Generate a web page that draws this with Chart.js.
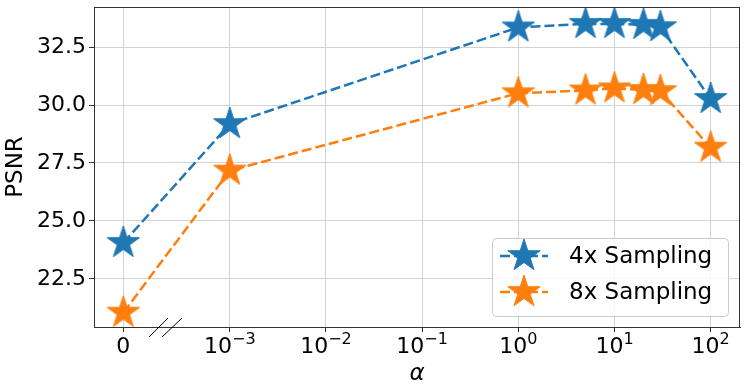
<!DOCTYPE html>
<html>
<head>
<meta charset="utf-8">
<script src="https://cdn.jsdelivr.net/npm/chart.js@4"></script>
<style>
  html, body { margin: 0; padding: 0; background: #fff; }
  #wrap { width: 747px; height: 392px; }
</style>
</head>
<body>
<div id="wrap"><canvas id="myChart" width="747" height="392"></canvas></div>
<script>
// alpha values (0 sits left of the axis break)
const alphas = [0, 1e-3, 1, 5, 10, 20, 30, 100];
const psnr4x = [24.05, 29.18, 33.35, 33.5, 33.5, 33.46, 33.36, 30.26];
const psnr8x = [21.04, 27.17, 30.51, 30.63, 30.72, 30.65, 30.6, 28.16];
const seriesLabels = ["4x Sampling", "8x Sampling"];
const yTicks = [22.5, 25.0, 27.5, 30.0, 32.5];
const xTickExps = [-3, -2, -1, 0, 1, 2];
const ZERO_POS = -4.107; // where alpha = 0 is placed on the log10 axis

const BLUE = "#1f77b4";
const ORANGE = "#ff7f0e";
const FONT = "DejaVu Sans";

function xPos(a) {
  return a === 0 ? ZERO_POS : Math.log10(a);
}

function starImage(color, R) {
  const c = document.createElement("canvas");
  const s = Math.ceil(2 * R + 4);
  c.width = s; c.height = s;
  const g = c.getContext("2d");
  const r = R * 0.381966;
  g.beginPath();
  for (let k = 0; k < 10; k++) {
    const ang = -Math.PI / 2 + k * Math.PI / 5;
    const rad = k % 2 === 0 ? R : r;
    const px = s / 2 + rad * Math.cos(ang);
    const py = s / 2 + rad * Math.sin(ang);
    if (k === 0) g.moveTo(px, py); else g.lineTo(px, py);
  }
  g.closePath();
  g.fillStyle = color;
  g.strokeStyle = color;
  g.lineWidth = 1;
  g.fill();
  g.stroke();
  return c;
}

const star4 = starImage(BLUE, 17);
const star8 = starImage(ORANGE, 17);

const decorPlugin = {
  id: "decor",
  afterDraw(chart) {
    const ctx = chart.ctx;
    const a = chart.chartArea;
    const xs = chart.scales.x;
    ctx.save();

    // frame
    ctx.strokeStyle = "#333";
    ctx.lineWidth = 1;
    ctx.strokeRect(a.left + 0.5, a.top + 0.5, a.right - a.left - 1, a.bottom - a.top);

    // x tick labels
    ctx.fillStyle = "#000";
    ctx.textBaseline = "alphabetic";
    const baseY = a.bottom + 26;
    ctx.font = "22px " + FONT;
    ctx.textAlign = "center";
    ctx.fillText("0", xs.getPixelForValue(ZERO_POS), baseY);
    xTickExps.forEach(e => {
      const cx = xs.getPixelForValue(e);
      ctx.font = "22px " + FONT;
      const w1 = ctx.measureText("10").width;
      const sup = e < 0 ? "\u2212" + (-e) : String(e);
      ctx.font = "16px " + FONT;
      const w2 = ctx.measureText(sup).width;
      const x0 = cx - (w1 + w2) / 2;
      ctx.textAlign = "left";
      ctx.font = "22px " + FONT;
      ctx.fillText("10", x0, baseY);
      ctx.font = "16px " + FONT;
      ctx.fillText(sup, x0 + w1, baseY - 9);
    });

    // axis break marks
    ctx.strokeStyle = "#000";
    ctx.lineWidth = 1;
    ctx.beginPath();
    ctx.moveTo(149, a.bottom + 10); ctx.lineTo(168, a.bottom - 9);
    ctx.moveTo(162, a.bottom + 10); ctx.lineTo(182, a.bottom - 9);
    ctx.stroke();

    // legend
    const lx = 492, ly = 238, lw = 236, lh = 78;
    ctx.beginPath();
    ctx.roundRect(lx + 0.5, ly + 0.5, lw, lh, 4);
    ctx.fillStyle = "rgba(255,255,255,0.8)";
    ctx.fill();
    ctx.strokeStyle = "#cccccc";
    ctx.stroke();
    const rows = [[BLUE, star4, 256], [ORANGE, star8, 292]];
    rows.forEach((row, i) => {
      const [col, img, yy] = row;
      ctx.strokeStyle = col;
      ctx.lineWidth = 2.5;
      ctx.setLineDash([10, 4]);
      ctx.beginPath();
      ctx.moveTo(500, yy); ctx.lineTo(548, yy);
      ctx.stroke();
      ctx.setLineDash([]);
      ctx.drawImage(img, 524 - img.width / 2, yy - img.height / 2);
      ctx.fillStyle = "#000";
      ctx.font = "23px " + FONT;
      ctx.textAlign = "left";
      ctx.textBaseline = "middle";
      ctx.fillText(seriesLabels[i], 569, yy + 1);
    });
    ctx.restore();
  }
};

new Chart(document.getElementById("myChart"), {
  type: "line",
  data: {
    datasets: [
      {
        label: seriesLabels[0],
        data: alphas.map((a, i) => ({ x: xPos(a), y: psnr4x[i] })),
        borderColor: BLUE,
        backgroundColor: BLUE,
        borderWidth: 2.5,
        borderDash: [10, 4],
        pointStyle: star4,
        order: 1,
      },
      {
        label: seriesLabels[1],
        data: alphas.map((a, i) => ({ x: xPos(a), y: psnr8x[i] })),
        borderColor: ORANGE,
        backgroundColor: ORANGE,
        borderWidth: 2.5,
        borderDash: [10, 4],
        pointStyle: star8,
        order: 0,
      },
    ],
  },
  options: {
    responsive: false,
    animation: false,
    events: [],
    layout: { padding: { left: 0, top: 7, right: 7, bottom: 0 } },
    plugins: { legend: { display: false }, tooltip: { enabled: false } },
    scales: {
      x: {
        type: "linear",
        min: -4.412,
        max: 2.305,
        afterBuildTicks: (s) => {
          s.ticks = [ZERO_POS].concat(xTickExps).map(v => ({ value: v }));
        },
        afterFit: (s) => {
          s.height = 65;
          s.paddingLeft = 0; s.paddingRight = 0;
        },
        grid: { color: "#d3d3d3", lineWidth: 1, tickLength: 5, tickColor: "#333" },
        border: { color: "#333" },
        ticks: { display: false },
        title: {
          display: true,
          text: "α",
          color: "#000",
          font: { family: FONT, size: 23, style: "italic" },
          padding: { top: 0, bottom: 4 },
        },
      },
      y: {
        min: 20.42,
        max: 34.23,
        afterBuildTicks: (s) => {
          s.ticks = yTicks.map(v => ({ value: v }));
        },
        afterFit: (s) => {
          s.width = 94;
          s.paddingTop = 0; s.paddingBottom = 0;
        },
        grid: { color: "#d3d3d3", lineWidth: 1, tickLength: 5, tickColor: "#333" },
        border: { color: "#333" },
        ticks: {
          color: "#000",
          padding: 3,
          font: { family: FONT, size: 22 },
          callback: (v) => Number(v).toFixed(1),
        },
        title: {
          display: true,
          text: "PSNR",
          color: "#000",
          font: { family: FONT, size: 23 },
          padding: { top: 2, bottom: 0 },
        },
      },
    },
  },
  plugins: [decorPlugin],
});
</script>
</body>
</html>
